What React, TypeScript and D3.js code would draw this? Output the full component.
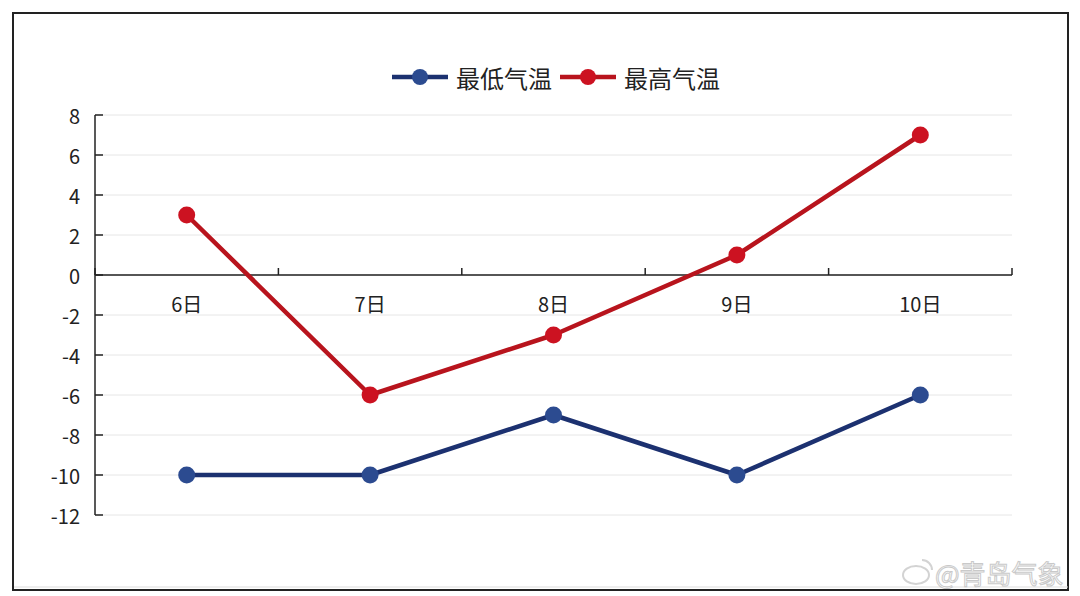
import React from "react";
import * as d3 from "d3";

const categories = ["6日", "7日", "8日", "9日", "10日"];
const lowTemps = [-10, -10, -7, -10, -6];
const highTemps = [3, -6, -3, 1, 7];
const yTicks = [8, 6, 4, 2, 0, -2, -4, -6, -8, -10, -12];
const seriesNames = ["最低气温", "最高气温"];

const W = 1080;
const H = 596;
const FONT = "'Noto Sans CJK SC', 'Noto Sans', sans-serif";

export default function App() {
  const left = 95;
  const right = 1012;
  const x = d3.scaleBand<string>().domain(categories).range([left, right]).padding(0);
  const y = d3.scaleLinear().domain([-12, 8]).range([515, 115]);
  const cx = (c: string) => (x(c) as number) + x.bandwidth() / 2;

  const line = d3
    .line<number>()
    .x((_, i) => cx(categories[i]))
    .y((d) => y(d));

  const series = [
    { name: seriesNames[0], values: lowTemps, line: "#1C3170", marker: "#2C4B90" },
    { name: seriesNames[1], values: highTemps, line: "#B8141D", marker: "#CC1221" },
  ];

  const boundaries = [...categories.map((c) => x(c) as number), right];

  return (
    <svg
      width={W}
      height={H}
      style={{ position: "absolute", left: 0, top: 0, display: "block", background: "#fff" }}
    >
      <rect x={0} y={0} width={W} height={H} fill="#fff" />
      {/* outer border */}
      <rect x={13} y={13} width={1055} height={577} fill="none" stroke="#222" strokeWidth={2} />
      <line x1={14} x2={1068} y1={587} y2={587} stroke="#ddd" strokeWidth={1} />

      {/* gridlines */}
      {yTicks.map((t) => (
        <line key={"g" + t} x1={left} x2={right} y1={y(t)} y2={y(t)} stroke="#e6e6e6" strokeWidth={1} />
      ))}

      {/* y axis */}
      <line x1={left} x2={left} y1={y(8)} y2={y(-12)} stroke="#222" strokeWidth={1.5} />
      {yTicks.map((t) => (
        <g key={"t" + t}>
          <line x1={left} x2={left + 8} y1={y(t)} y2={y(t)} stroke="#222" strokeWidth={1.5} />
          <text
            x={80}
            y={y(t)}
            textAnchor="end"
            dominantBaseline="central"
            fontFamily={FONT}
            fontSize={20}
            fill="#222"
          >
            {t}
          </text>
        </g>
      ))}

      {/* x axis at 0 */}
      <line x1={left} x2={right} y1={y(0)} y2={y(0)} stroke="#222" strokeWidth={1.5} />
      {boundaries.map((b, i) => (
        <line key={"xb" + i} x1={b} x2={b} y1={y(0)} y2={y(0) - 7} stroke="#222" strokeWidth={1.5} />
      ))}
      {categories.map((c) => (
        <text
          key={"xl" + c}
          x={cx(c)}
          y={303}
          textAnchor="middle"
          dominantBaseline="central"
          fontFamily={FONT}
          fontSize={20}
          fill="#222"
        >
          {c}
        </text>
      ))}

      {/* series */}
      {series.map((s) => (
        <g key={s.name}>
          <path d={line(s.values) || ""} fill="none" stroke={s.line} strokeWidth={4.5} strokeLinejoin="round" />
          {s.values.map((v, i) => (
            <circle key={i} cx={cx(categories[i])} cy={y(v)} r={8.5} fill={s.marker} />
          ))}
        </g>
      ))}

      {/* legend */}
      {series.map((s, i) => {
        const lx = 392 + i * 168;
        return (
          <g key={"lg" + s.name}>
            <line x1={lx} x2={lx + 56} y1={77} y2={77} stroke={s.line} strokeWidth={4.5} />
            <circle cx={lx + 28} cy={77} r={8} fill={s.marker} />
            <text
              x={lx + 64}
              y={77}
              dominantBaseline="central"
              fontFamily={FONT}
              fontSize={24}
              fill="#222"
            >
              {s.name}
            </text>
          </g>
        );
      })}

      {/* watermark */}
      <g opacity={0.9}>
        <ellipse cx={916} cy={575} rx={13} ry={9} fill="none" stroke="#cfcfcf" strokeWidth={2} />
        <path d="M922 560 a10 10 0 0 1 10 10" fill="none" stroke="#cfcfcf" strokeWidth={2} />
        <text
          x={935}
          y={572}
          dominantBaseline="central"
          fontFamily={FONT}
          fontSize={26}
          fill="#fff"
          stroke="#c4c4c4"
          strokeWidth={1}
        >
          @青岛气象
        </text>
      </g>
    </svg>
  );
}
